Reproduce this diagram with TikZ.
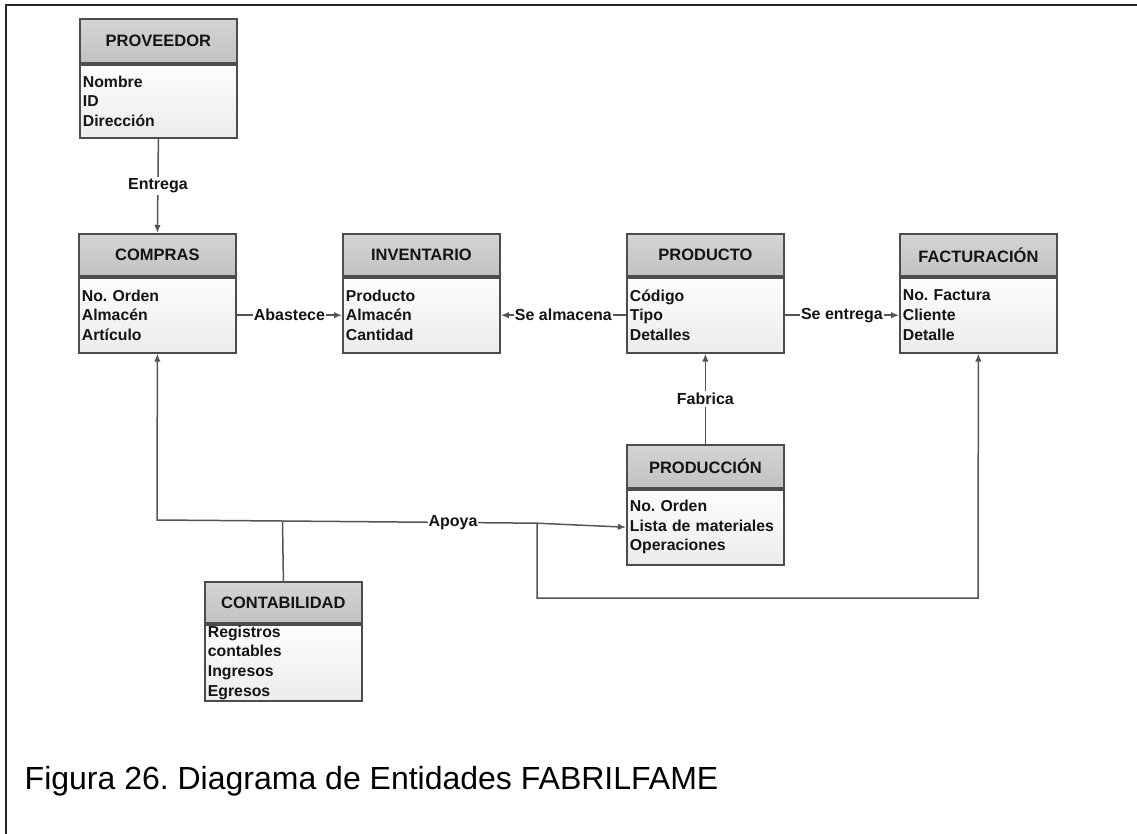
\documentclass[tikz,border=0pt]{standalone}
\usepackage{fontspec}
\setmainfont{Liberation Sans}
\usetikzlibrary{arrows.meta}
\frenchspacing

\definecolor{ink}{HTML}{141414}
\definecolor{edge}{HTML}{4C4C4C}
\definecolor{wirec}{HTML}{555555}
\definecolor{headtop}{HTML}{D4D4D4}
\definecolor{headbot}{HTML}{C2C2C2}
\definecolor{bodytop}{HTML}{FDFDFD}
\definecolor{bodybot}{HTML}{ECECEC}

\tikzset{
  erhead/.style={draw=edge, line width=1.8pt, top color=headtop, bottom color=headbot,
    minimum width=157pt, inner sep=0pt, text=ink,
    font=\fontsize{16.5}{20}\selectfont\bfseries},
  erbody/.style={draw=edge, line width=1.8pt, top color=bodytop, bottom color=bodybot,
    minimum width=157pt, text width=151pt, inner xsep=3pt, inner ysep=0pt,
    align=left, text=ink, font=\fontsize{15.8}{19.7}\selectfont\bfseries},
  wire/.style={draw=wirec, line width=1.5pt},
  tip/.style={-{Latex[length=8pt,width=6.5pt]}},
  rel/.style={fill=white, inner xsep=1pt, inner ysep=2pt, text=ink,
    font=\fontsize{16}{19}\selectfont\bfseries},
  frame/.style={draw=black!85, line width=1.5pt},
  caption/.style={text=black, font=\fontsize{32}{36}\selectfont,
    inner sep=0pt, anchor=base west}
}

% entity: name, left x, top y, title, attributes, header height, body height
\newcommand\erentity[7]{%
  \node[erhead, anchor=north west, minimum height=#6] (#1-h) at (#2,#3) {#4};
  \node[erbody, anchor=north, minimum height=#7] (#1) at (#1-h.south) {#5};
}

\begin{document}
\begin{tikzpicture}[x=1pt,y=-1pt]
  \useasboundingbox (0,0) rectangle (1137,834);

  % page frame (top and left rules)
  \draw[frame] (6,834) -- (6,5) -- (1137,5);

  % entities
  \erentity{proveedor}{79}{18}{PROVEEDOR}{Nombre\\ID\\Dirección}{44pt}{73pt}
  \erentity{compras}{78}{233}{COMPRAS}{No. Orden\\Almacén\\Artículo}{42pt}{75pt}
  \erentity{inventario}{342}{233}{INVENTARIO}{Producto\\Almacén\\Cantidad}{42pt}{75pt}
  \erentity{producto}{626}{233}{PRODUCTO}{Código\\Tipo\\Detalles}{42pt}{75pt}
  \erentity{facturacion}{899}{233}{FACTURACIÓN}{No. Factura\\Cliente\\Detalle}{42pt}{75pt}
  \erentity{produccion}{626}{444}{PRODUCCIÓN}{No. Orden\\Lista de materiales\\Operaciones}{43pt}{75pt}
  \erentity{contabilidad}{204}{581}{CONTABILIDAD}{Registros\\contables\\Ingresos\\Egresos}{41pt}{76pt}

  % relationships
  \draw[wire,tip] (proveedor.south) -- node[rel]{Entrega} (compras-h.north);
  \draw[wire,tip] (compras.east) -- node[rel]{Abastece} (inventario.west);
  \draw[wire,tip] (producto.west) -- node[rel]{Se almacena} (inventario.east);
  \draw[wire,tip] (producto.east) -- node[rel]{Se entrega} (facturacion.west);
  \draw[wire,tip] (produccion-h.north) -- node[rel]{Fabrica} (producto.south);

  % "Apoya" network from accounting
  \coordinate (bend) at (157,520);
  \coordinate (j1) at (282.5,521);
  \coordinate (j2) at (537,523.2);
  \coordinate (dropL) at (537,598);
  \coordinate (dropR) at (978,598);

  \draw[wire] (contabilidad-h.north) -- (j1);
  \draw[wire,tip] (j1) -- (bend) -- (compras.south);
  \draw[wire] (j1) -- node[rel,pos=0.67]{Apoya} (j2);
  \draw[wire,tip] (j2) -- (produccion.west);
  \draw[wire,tip] (j2) -- (dropL) -- (dropR) -- (facturacion.south);

  % caption
  \node[caption] (cap) at (24.5,789) {Figura 26. Diagrama de Entidades FABRILFAME};
\end{tikzpicture}
\end{document}
